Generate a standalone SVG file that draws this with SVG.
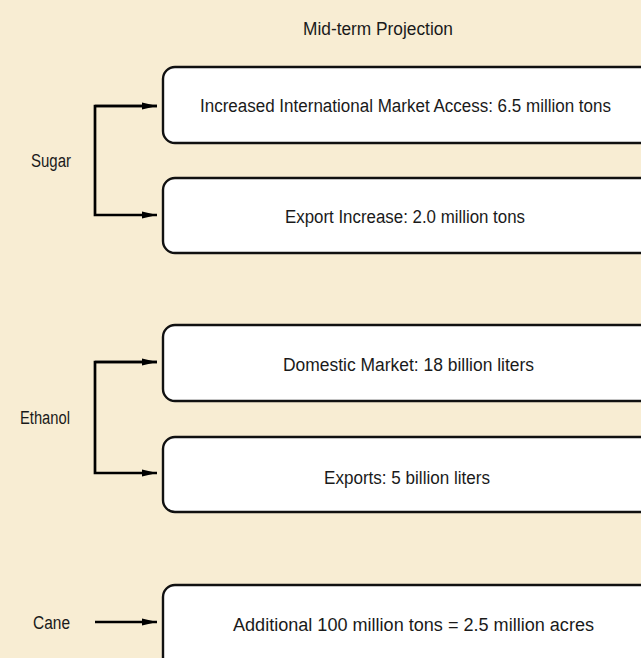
<svg xmlns="http://www.w3.org/2000/svg" width="641" height="658" viewBox="0 0 641 658">
<defs>
<style>
text{font-family:"Liberation Sans Narrow","Liberation Sans",Arial,sans-serif;font-size:18px;fill:#1a1a1a;}
.c{text-anchor:middle;}
.box{fill:#fff;stroke:#111;stroke-width:2.4;}
.ln{fill:none;stroke:#000;stroke-width:2.7;}
</style>
<marker id="ah" markerWidth="15" markerHeight="9" refX="15" refY="4.5" orient="auto" markerUnits="userSpaceOnUse">
<path d="M0,1 L15,4.5 L0,8 Z" fill="#000"/>
</marker>
</defs>
<rect width="641" height="658" fill="#F8EDD3"/>
<text class="c" x="378" y="35" textLength="150" lengthAdjust="spacingAndGlyphs">Mid-term Projection</text>
<g id="label-sugar"><text class="c" x="51" y="167" textLength="40" lengthAdjust="spacingAndGlyphs">Sugar</text></g>
<g id="label-ethanol"><text class="c" x="45" y="424" textLength="50" lengthAdjust="spacingAndGlyphs">Ethanol</text></g>
<g id="label-cane"><text class="c" x="51.5" y="629" textLength="37" lengthAdjust="spacingAndGlyphs">Cane</text></g>
<g id="box1"><rect class="box" x="163" y="67" width="500" height="76" rx="12"/><text class="c" x="405.5" y="112" textLength="411" lengthAdjust="spacingAndGlyphs">Increased International Market Access: 6.5 million tons</text></g>
<g id="box2"><rect class="box" x="163" y="178" width="500" height="75" rx="12"/><text class="c" x="405" y="223" textLength="240" lengthAdjust="spacingAndGlyphs">Export Increase: 2.0 million tons</text></g>
<g id="box3"><rect class="box" x="163" y="325" width="500" height="76" rx="12"/><text class="c" x="408.5" y="371" textLength="251" lengthAdjust="spacingAndGlyphs">Domestic Market: 18 billion liters</text></g>
<g id="box4"><rect class="box" x="163" y="437" width="500" height="75" rx="12"/><text class="c" x="407" y="484" textLength="166" lengthAdjust="spacingAndGlyphs">Exports: 5 billion liters</text></g>
<g id="box5"><rect class="box" x="163" y="585" width="500" height="100" rx="12"/><text class="c" x="413.5" y="631" textLength="361" lengthAdjust="spacingAndGlyphs">Additional 100 million tons = 2.5 million acres</text></g>
<g id="connectors">
<path class="ln" d="M157,106 H95 V215 H157" marker-end="url(#ah)"/>
<path class="ln" d="M95,106 H157" marker-end="url(#ah)"/>
<path class="ln" d="M157,362 H95 V473 H157" marker-end="url(#ah)"/>
<path class="ln" d="M95,362 H157" marker-end="url(#ah)"/>
<path class="ln" d="M95,622 H157" marker-end="url(#ah)"/>
</g>
</svg>
